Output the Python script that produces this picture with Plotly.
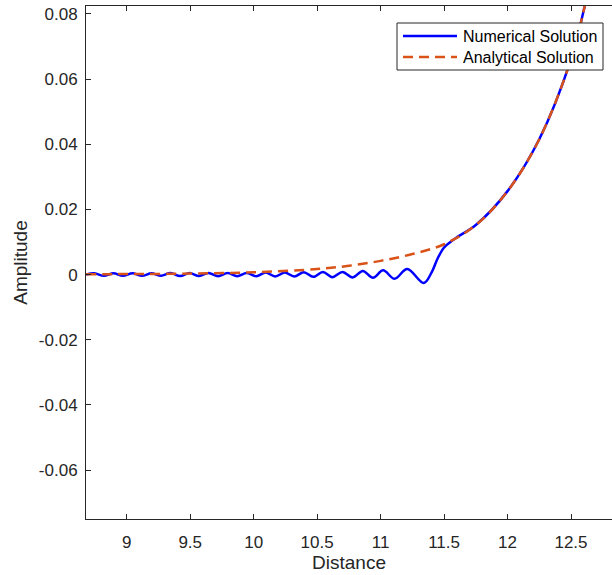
import plotly.graph_objects as go

# ---- data ----
num_x = [8.68, 8.745, 8.82, 8.895, 8.97, 9.045, 9.12, 9.195, 9.27, 9.345, 9.42, 9.495,
         9.57, 9.645, 9.72, 9.795, 9.87, 9.945, 10.02, 10.095, 10.17, 10.245, 10.32,
         10.395, 10.47, 10.545, 10.62, 10.70, 10.78, 10.86, 10.94, 11.02, 11.11, 11.21,
         11.34, 11.40, 11.45, 11.50, 11.55, 11.60, 11.75, 12.0, 12.25, 12.5, 12.6, 12.65]
num_y = [0.0, 0.0004, -0.0004, 0.0004, -0.0004, 0.0004, -0.0004, 0.0004, -0.0004,
         0.00045, -0.00045, 0.00045, -0.00045, 0.0005, -0.0005, 0.0005, -0.0005, 0.0005,
         -0.0005, 0.0006, -0.0006, 0.0006, -0.0006, 0.0007, -0.0007, 0.0008, -0.0008,
         0.0008, -0.0009, 0.0011, -0.0010, 0.0013, -0.0013, 0.0017, -0.0026, 0.0005,
         0.0050, 0.0083, 0.0100, 0.0114, 0.0152, 0.0256, 0.0415, 0.066, 0.081, 0.090]

ana_x = [8.68, 9.0, 9.5, 10.0, 10.5, 10.75, 11.0, 11.25, 11.5, 11.75, 12.0, 12.25,
         12.5, 12.6, 12.65]
ana_y = [0.0001, 0.00015, 0.0003, 0.0007, 0.0017, 0.0027, 0.0042, 0.0063, 0.0093,
         0.0152, 0.0256, 0.0415, 0.066, 0.081, 0.090]

series_names = ["Numerical Solution", "Analytical Solution"]
x_ticks = [9, 9.5, 10, 10.5, 11, 11.5, 12, 12.5]
x_labels = ["9", "9.5", "10", "10.5", "11", "11.5", "12", "12.5"]
y_ticks = [-0.06, -0.04, -0.02, 0, 0.02, 0.04, 0.06, 0.08]
y_labels = ["-0.06", "-0.04", "-0.02", "0", "0.02", "0.04", "0.06", "0.08"]

FONT = "Liberation Sans, Arial, Helvetica, sans-serif"
AX = "#262626"
BLUE = "#0000FF"
ORANGE = "#D95319"
DASH = "10px,6px"

W, H = 612, 575
L, R, T, B = 86, 0, 6, 56
PW, PH = W - L - R, H - T - B


def px(x):
    return (x - L) / PW


def py(y):
    return (H - B - y) / PH


fig = go.Figure()
fig.add_trace(go.Scatter(x=num_x, y=num_y, mode="lines", name=series_names[0],
                         line=dict(color=BLUE, width=2.5, shape="spline", smoothing=1.0)))
fig.add_trace(go.Scatter(x=ana_x, y=ana_y, mode="lines", name=series_names[1],
                         line=dict(color=ORANGE, width=2.5, dash=DASH,
                                   shape="spline", smoothing=1.0)))

# manual legend (MATLAB-style box)
shapes = [
    dict(type="rect", xref="paper", yref="paper", x0=px(397), x1=px(603), y0=py(70), y1=py(23),
         line=dict(color=AX, width=1), fillcolor="white", layer="above"),
    dict(type="line", xref="paper", yref="paper", x0=px(403), x1=px(457), y0=py(36), y1=py(36),
         line=dict(color=BLUE, width=2.5), layer="above"),
    dict(type="line", xref="paper", yref="paper", x0=px(403), x1=px(457), y0=py(57), y1=py(57),
         line=dict(color=ORANGE, width=2.5, dash=DASH), layer="above"),
]
annotations = [
    dict(xref="paper", yref="paper", x=px(461), y=py(36), xanchor="left", yanchor="middle",
         text=series_names[0], showarrow=False, font=dict(family=FONT, size=16, color="black")),
    dict(xref="paper", yref="paper", x=px(461), y=py(57), xanchor="left", yanchor="middle",
         text=series_names[1], showarrow=False, font=dict(family=FONT, size=16, color="black")),
]

fig.update_layout(
    width=W, height=H,
    margin=dict(l=L, r=R, t=T, b=B),
    paper_bgcolor="white", plot_bgcolor="white",
    font=dict(family=FONT, size=17, color=AX),
    showlegend=False,
    shapes=shapes, annotations=annotations,
    xaxis=dict(range=[8.679, 12.823], tickvals=x_ticks, ticktext=x_labels,
               showgrid=False, zeroline=False, showline=True, linecolor=AX, linewidth=1,
               mirror="ticks", ticks="inside", ticklen=5, tickcolor=AX,
               tickfont=dict(size=17, color=AX), ticklabelstandoff=8,
               title=dict(text="Distance", font=dict(size=19, color=AX), standoff=4)),
    yaxis=dict(range=[-0.075, 0.0824], tickvals=y_ticks, ticktext=y_labels,
               showgrid=False, zeroline=False, showline=True, linecolor=AX, linewidth=1,
               mirror=False, ticks="inside", ticklen=5, tickcolor=AX,
               tickfont=dict(size=17, color=AX), ticklabelstandoff=4,
               title=dict(text="Amplitude", font=dict(size=19, color=AX), standoff=6)),
)

fig.write_html("out.html")
